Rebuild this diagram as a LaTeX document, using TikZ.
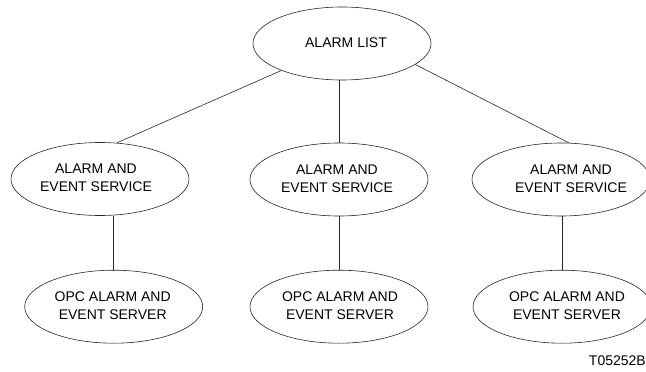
\documentclass[tikz,border=0pt]{standalone}
\usepackage{fontspec}
\setmainfont{Liberation Sans}
\usetikzlibrary{shapes.geometric}
\newcommand\btext[2]{\makebox[0pt]{\hspace*{#1}\begin{tabular}{@{}c@{}}#2\end{tabular}}}
\begin{document}
\begin{tikzpicture}[x=1pt,y=-1pt,
  txt/.style={font=\fontsize{14}{18.3}\selectfont, text=black},
  bubble/.style={txt, draw=black!85, ellipse, minimum width=178pt, minimum height=73pt, inner sep=0pt, line width=0.6pt},
  link/.style={draw=black!85, line width=0.6pt}]
\useasboundingbox (0,0) rectangle (646,372);
\node[bubble] (top) at (342,43.5) {\btext{8pt}{ALARM LIST}};
\node[bubble] (l1) at (100,179) {\btext{-8pt}{ALARM AND\\EVENT SERVICE}};
\node[bubble] (m1) at (339,179.5) {\btext{-4pt}{ALARM AND\\EVENT SERVICE}};
\node[bubble] (r1) at (561,179.5) {\btext{20pt}{ALARM AND\\EVENT SERVICE}};
\node[bubble] (l2) at (113.7,306.7) {\btext{-2pt}{OPC ALARM AND\\EVENT SERVER}};
\node[bubble] (m2) at (339,306.7) {\btext{2pt}{OPC ALARM AND\\EVENT SERVER}};
\node[bubble] (r2) at (562,306.7) {\btext{10pt}{OPC ALARM AND\\EVENT SERVER}};
\node[txt, inner sep=0pt, anchor=base east] (tag) at (646,365) {T05252B};
\draw[link] (top.204) -- (l1.65);
\draw[link] (m1.north) -- (m1.north |- top.south);
\draw[link] (top.344.5) -- (r1.78);
\draw[link] (l2.north) -- (l2.north |- l1.south);
\draw[link] (m2.north) -- (m1.south);
\draw[link] (r2.north) -- (r2.north |- r1.south);
\end{tikzpicture}
\end{document}
